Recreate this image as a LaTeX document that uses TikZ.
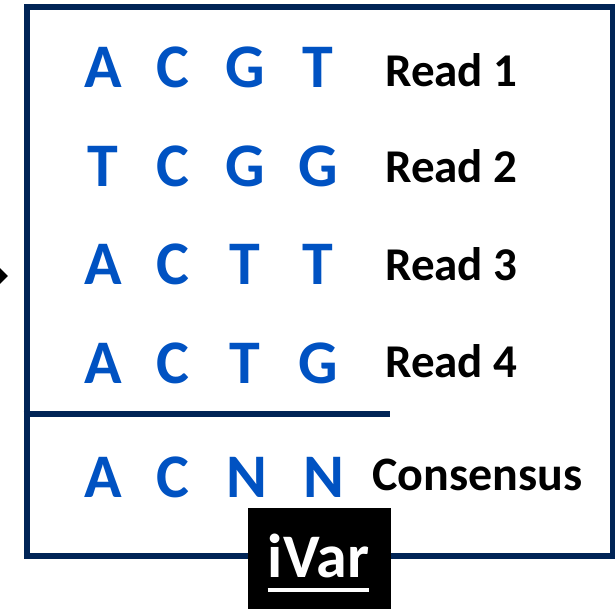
\documentclass[tikz,border=0pt]{standalone}
\usepackage{fontspec}
\setmainfont{Carlito}
\usetikzlibrary{arrows.meta}
\definecolor{framenavy}{RGB}{0,36,86}
\definecolor{baseblue}{RGB}{0,82,194}

\begin{document}
\begin{tikzpicture}[x=1pt,y=-1pt,
  nuc/.style={font=\fontsize{62}{62}\selectfont\bfseries, text=baseblue, anchor=base, inner sep=0pt},
  readlabel/.style={font=\fontsize{47}{47}\selectfont\bfseries, anchor=base west, inner sep=0pt},
  framestyle/.style={draw=framenavy, line width=6pt}]
\useasboundingbox (0,0) rectangle (615,609);

% outer panel
\node[framestyle, minimum width=586pt, minimum height=549.3pt, inner sep=0pt] (panel) at (319.5,281.35) {};

% incoming arrow, its tail lies beyond the left edge
\coordinate (arrowtail) at (-40,276);
\coordinate (arrowtip) at (8,276);
\draw[line width=2pt, -{Triangle[length=9pt,width=17pt]}] (arrowtail) -- (arrowtip);

% reads
\foreach \row/\y/\a/\b/\c/\d in {1/88/A/C/G/T, 2/187/T/C/G/G, 3/285/A/C/T/T, 4/383/A/C/T/G}{
  \node[nuc] (r\row a) at (103,\y) {\a};
  \node[nuc] (r\row b) at (173,\y) {\b};
  \node[nuc] (r\row c) at (245,\y) {\c};
  \node[nuc] (r\row d) at (318,\y) {\d};
}
\node[readlabel] (lab1) at (385,87) {Read 1};
\node[readlabel] (lab2) at (385,183) {Read 2};
\node[readlabel] (lab3) at (385,280) {Read 3};
\node[readlabel] (lab4) at (385,377) {Read 4};

% divider between reads and consensus
\coordinate (divend) at (390,414);
\draw[framestyle] (panel.west |- divend) -- (divend);

% consensus
\node[nuc] (ca) at (103,497) {A};
\node[nuc] (cb) at (173,497) {C};
\node[nuc] (cc) at (246.5,497) {N};
\node[nuc] (cd) at (323.5,497) {N};
\node[readlabel, font=\fontsize{48}{48}\selectfont\bfseries] (labc) at (372,490) {Consensus};

% tool badge
\node[fill=black, minimum width=143pt, minimum height=101pt, inner sep=0pt, anchor=north west] (badge) at (248,508) {};
\node[font=\fontsize{62}{62}\selectfont\bfseries, text=white, anchor=base, inner sep=0pt] (ivar) at (318.5,577) {iVar};
\draw[white, line width=4pt] ([yshift=-13pt]ivar.base west) -- ([yshift=-13pt]ivar.base east);
\end{tikzpicture}
\end{document}
